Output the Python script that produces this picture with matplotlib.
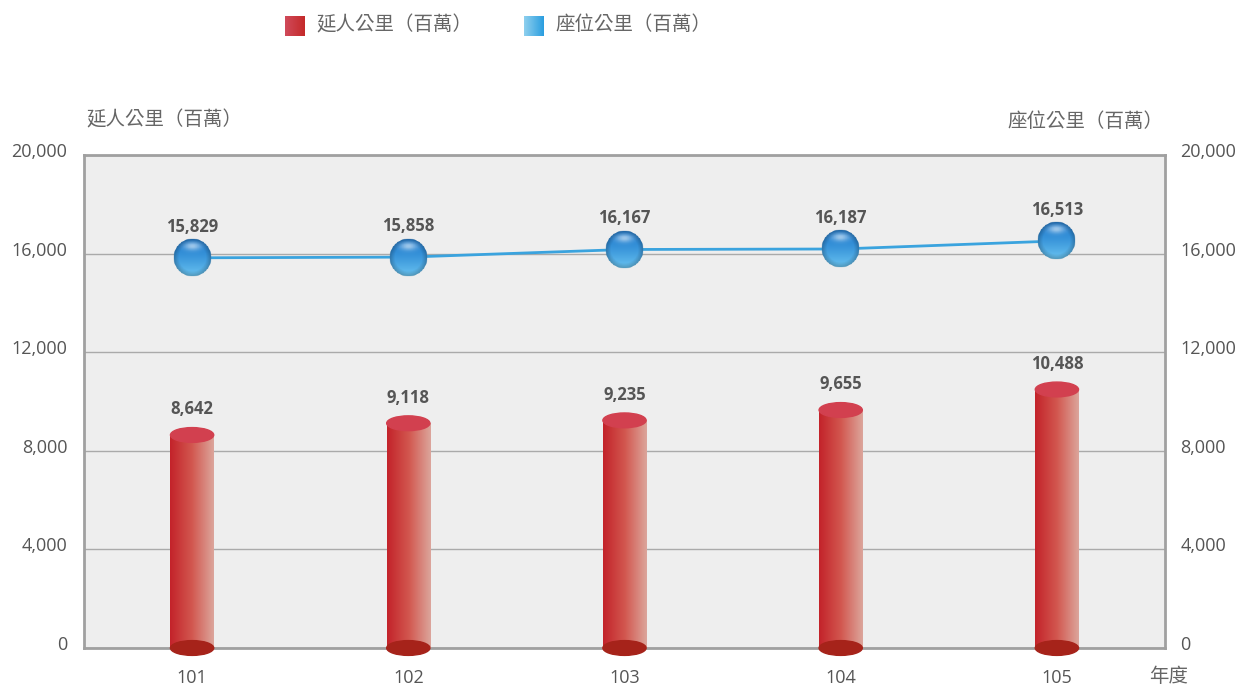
import numpy as np
import matplotlib
matplotlib.use('Agg')
import matplotlib.pyplot as plt
import matplotlib.transforms as mtransforms
from matplotlib.patches import Ellipse
from matplotlib.colors import LinearSegmentedColormap, to_rgb
from matplotlib.offsetbox import OffsetImage, AnnotationBbox

plt.rcParams['font.family'] = ['Open Sans', 'Noto Sans CJK TC', 'DejaVu Sans']

# data
years = ['101', '102', '103', '104', '105']
passenger_km = [8642, 9118, 9235, 9655, 10488]
seat_km = [15829, 15858, 16167, 16187, 16513]
bar_name = '延人公里（百萬）'
line_name = '座位公里（百萬）'
y_ticks = [0, 4000, 8000, 12000, 16000, 20000]

txt_gray = '#555555'
lbl_gray = '#666666'
bar_cmap = LinearSegmentedColormap.from_list('bar', ['#c3232a', '#d2574f', '#dca59b'])
line_cmap = LinearSegmentedColormap.from_list('ln', ['#8fd0ee', '#2a9ee0'])


def sphere_image(size=56):
    """glossy blue ball as RGBA array"""
    u, v = np.meshgrid(np.linspace(-1, 1, size), np.linspace(-1, 1, size))
    r = np.sqrt(u ** 2 + v ** 2)
    top = np.array(to_rgb('#1b78cc'))
    bot = np.array(to_rgb('#6cc6f2'))
    t = np.clip((v + 1) / 2, 0, 1)[..., None] ** 1.3
    rgb = top * (1 - t) + bot * t
    rgb = rgb * (1 - 0.25 * np.clip(r - 0.7, 0, 1)[..., None] / 0.3)
    hl = np.exp(-(((u) / 0.45) ** 2 + ((v + 0.6) / 0.22) ** 2))
    rgb = rgb + (1 - rgb) * 0.55 * hl[..., None]
    alpha = np.clip((1 - r) * size / 2, 0, 1)
    return np.dstack([np.clip(rgb, 0, 1), alpha])


fig = plt.figure(figsize=(12.4, 6.88), dpi=100)
ax = fig.add_axes([84 / 1240, 40 / 688, 1081 / 1240, 493 / 688])
ax.set_facecolor('#eeeeee')

x = np.arange(len(years))
bw = 0.2
ell_h = 600
grad = np.linspace(0, 1, 100).reshape(1, -1)

for xi, v in zip(x, passenger_km):
    ax.imshow(grad, cmap=bar_cmap, aspect='auto', extent=[xi - bw / 2, xi + bw / 2, 0, v],
              zorder=3, interpolation='bilinear')
    ax.add_patch(Ellipse((xi, 0), bw, ell_h, color='#a6231a', zorder=3.05, clip_on=False))
    ax.add_patch(Ellipse((xi, v), bw, ell_h, color='#d2404f', zorder=3.1))
    ax.annotate(f'{v:,}', (xi, v), xytext=(0, 12), textcoords='offset points', ha='center',
                va='bottom', fontsize=12, fontweight='bold', color=txt_gray)

ax.plot(x, seat_km, color='#3aa3de', lw=2, zorder=4)
ball = sphere_image()
for xi, v in zip(x, seat_km):
    ab = AnnotationBbox(OffsetImage(ball, zoom=0.5), (xi, v), frameon=False, zorder=5)
    ax.add_artist(ab)
    ax.annotate(f'{v:,}', (xi, v), xytext=(0, 16), textcoords='offset points', ha='center',
                va='bottom', fontsize=12, fontweight='bold', color=txt_gray)

ax.set_xlim(-0.5, 4.5)
ax.set_ylim(0, 20000)
ax.set_yticks(y_ticks)
ax.set_yticklabels([f'{t:,}' for t in y_ticks])
ax.set_xticks(x)
ax.set_xticklabels(years)
ax.grid(axis='y', color='#aaaaaa', lw=1, zorder=1)
ax.set_axisbelow(True)
ax.tick_params(length=0, labelsize=13, labelcolor=txt_gray, pad=12)
ax.tick_params(axis='x', pad=15)
for s in ax.spines.values():
    s.set_color('#a0a0a0')
    s.set_linewidth(2)

ax2 = ax.twinx()
ax2.set_ylim(0, 20000)
ax2.set_yticks(y_ticks)
ax2.set_yticklabels([f'{t:,}' for t in y_ticks])
ax2.tick_params(length=0, labelsize=13, labelcolor=txt_gray, pad=11)
for s in ax2.spines.values():
    s.set_visible(False)

# y labels sit a little above their grid lines
shift = mtransforms.ScaledTranslation(0, 5 / 100, fig.dpi_scale_trans)
for lab in ax.get_yticklabels() + ax2.get_yticklabels():
    lab.set_transform(lab.get_transform() + shift)

fig.text(86 / 1240, 1 - 120 / 688, bar_name, fontsize=14, color=lbl_gray, va='center', ha='left')
fig.text(1163 / 1240, 1 - 122 / 688, line_name, fontsize=14, color=lbl_gray, va='center', ha='right')
fig.text(1169 / 1240, 1 - 677 / 688, '年度', fontsize=14, color=lbl_gray, va='center', ha='center')

# legend
for lx, cmap, name in [(285, LinearSegmentedColormap.from_list('l1', ['#d04a5a', '#c42a2a']), bar_name),
                       (524, line_cmap, line_name)]:
    lax = fig.add_axes([lx / 1240, 1 - 36 / 688, 20 / 1240, 20 / 688])
    lax.imshow(grad, cmap=cmap, aspect='auto')
    lax.axis('off')
    fig.text((lx + 31) / 1240, 1 - 25 / 688, name, fontsize=14, color=lbl_gray, va='center', ha='left')

fig.savefig('out.png', dpi=100)
